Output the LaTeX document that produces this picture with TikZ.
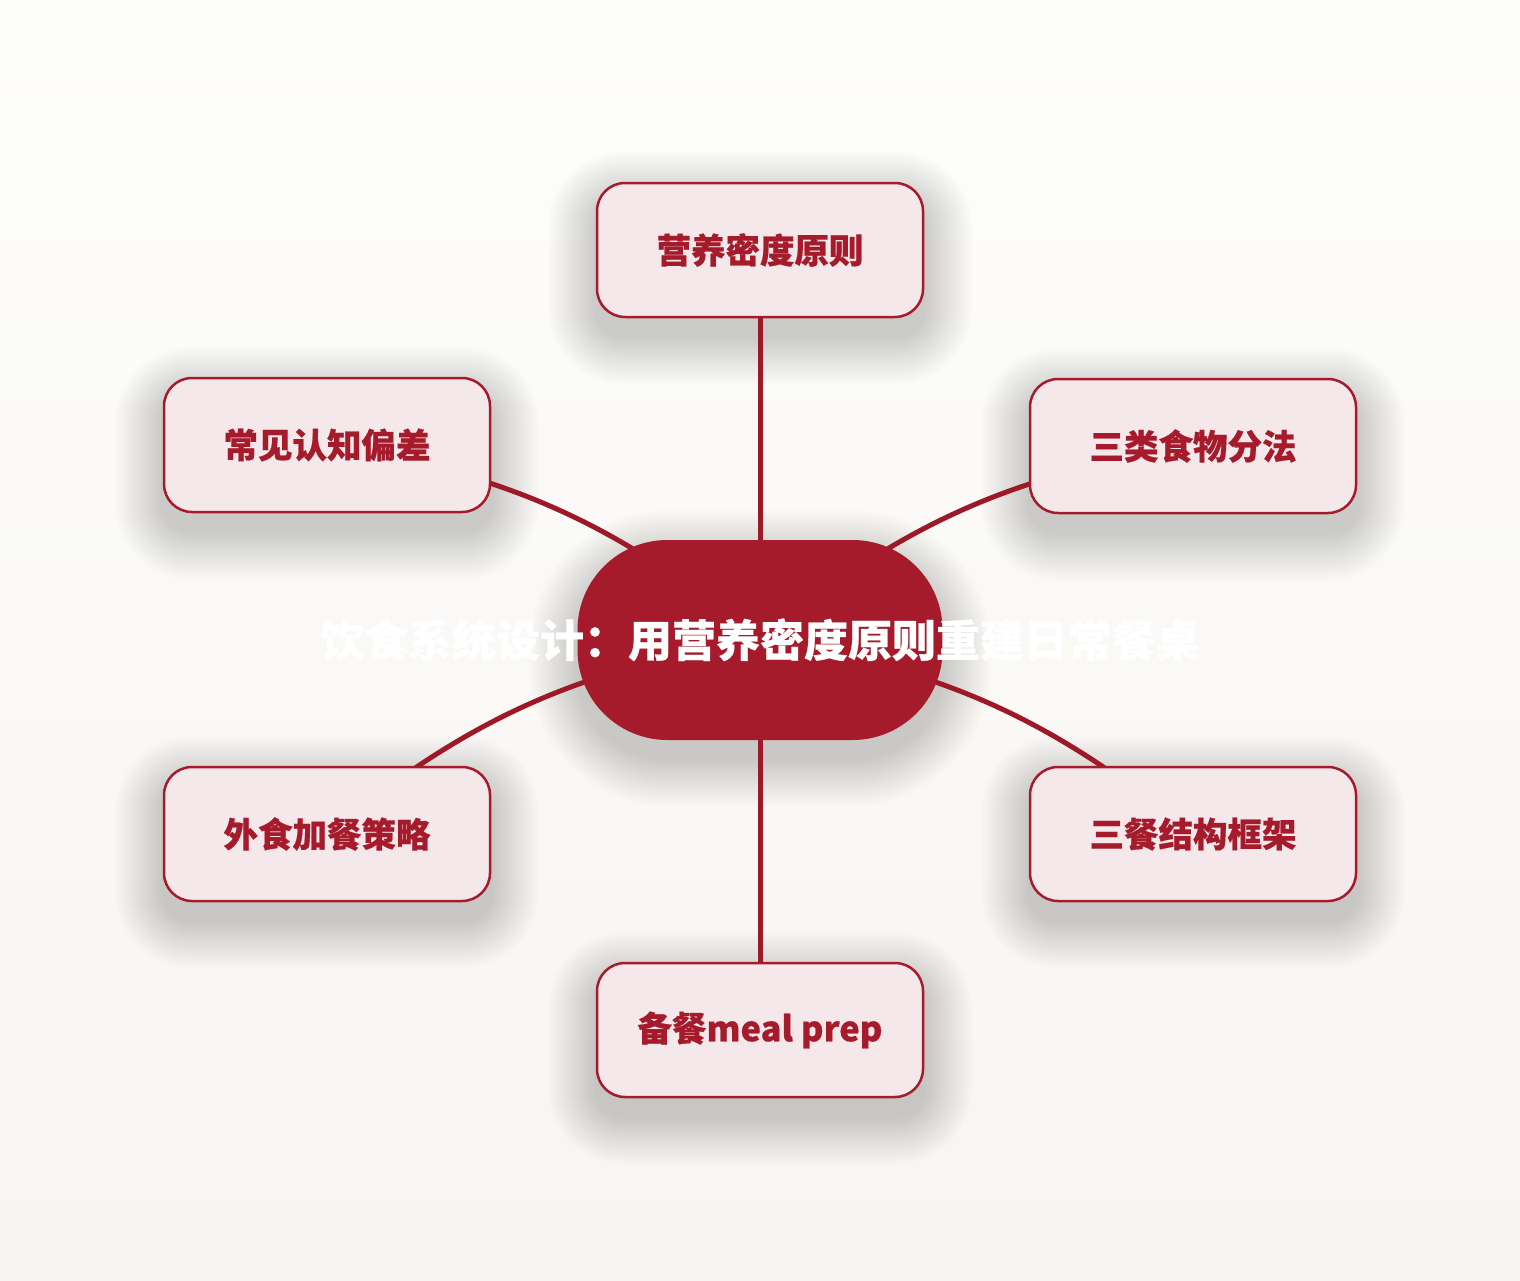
\documentclass[tikz,border=0pt]{standalone}
\usepackage{fontspec}
\newfontfamily\cjk{Noto Sans CJK SC}[BoldFeatures={FakeBold=0.5}]
\pgfdeclarelayer{bgl}
\pgfdeclarelayer{shadowl}
\pgfdeclarelayer{edgel}
\pgfsetlayers{bgl,shadowl,edgel,main}
\definecolor{brand}{RGB}{165,27,43}
\definecolor{linkc}{RGB}{158,25,40}
\definecolor{soft}{RGB}{244,232,235}
\definecolor{bgtop}{RGB}{253,253,252}
\definecolor{bgbot}{RGB}{247,245,241}
\definecolor{shadowc}{RGB}{60,50,40}
\tikzset{
  sat/.style={draw=brand, line width=2.5pt, fill=soft, rounded corners=28pt,
    minimum width=326pt, minimum height=134pt, inner sep=0pt, text=brand,
    font=\cjk\bfseries\fontsize{34.5}{40}\selectfont},
  hub/.style={fill=brand, rounded corners=90pt, minimum width=365pt,
    minimum height=200pt, inner sep=0pt, text=white,
    font=\cjk\bfseries\fontsize{44}{52}\selectfont},
  link/.style={draw=linkc, line width=5pt},
  shadowpiece/.style={fill=shadowc, opacity=0.0065},
}
\newcommand\nodeshadow[2]{%
  \foreach \k in {0,...,23}{%
    \pgfmathsetmacro\ee{48-2*\k}%
    \pgfmathsetmacro\rr{#2+\ee}%
    \fill[shadowpiece, rounded corners=\rr pt]
      ([shift={(-\ee,-\ee+18)}]#1.north west) rectangle ([shift={(\ee,\ee+18)}]#1.south east);
  }}
\begin{document}
\begin{tikzpicture}[x=1pt,y=-1pt]
\begin{pgfonlayer}{bgl}
  \shade[top color=bgtop, bottom color=bgbot] (0,0) rectangle (1520,1280);
\end{pgfonlayer}
\useasboundingbox (0,0) rectangle (1520,1280);
\node[hub] (hub) at (760,640) {\makebox[0pt][c]{饮食系统设计：用营养密度原则重建日常餐桌}};
\node[sat] (top) at (760,250) {营养密度原则};
\node[sat] (lt) at (327,445) {常见认知偏差};
\node[sat] (rt) at (1193,446) {三类食物分法};
\node[sat] (lb) at (327,834) {外食加餐策略};
\node[sat] (rb) at (1193,834) {三餐结构框架};
\node[sat] (bot) at (760,1030) {备餐meal prep};
\begin{pgfonlayer}{shadowl}
  \nodeshadow{hub}{90}
  \nodeshadow{top}{28}
  \nodeshadow{lt}{28}
  \nodeshadow{rt}{28}
  \nodeshadow{lb}{28}
  \nodeshadow{rb}{28}
  \nodeshadow{bot}{28}
\end{pgfonlayer}
\begin{pgfonlayer}{edgel}
  \draw[link] (hub.center) -- (top.center);
  \draw[link] (hub.center) -- (bot.center);
  \draw[link] (hub.center) to[bend right=15] (lt.center);
  \draw[link] (hub.center) to[bend left=15] (rt.center);
  \draw[link] (hub.center) to[bend right=15] (lb.center);
  \draw[link] (hub.center) to[bend left=15] (rb.center);
\end{pgfonlayer}
\end{tikzpicture}
\end{document}
